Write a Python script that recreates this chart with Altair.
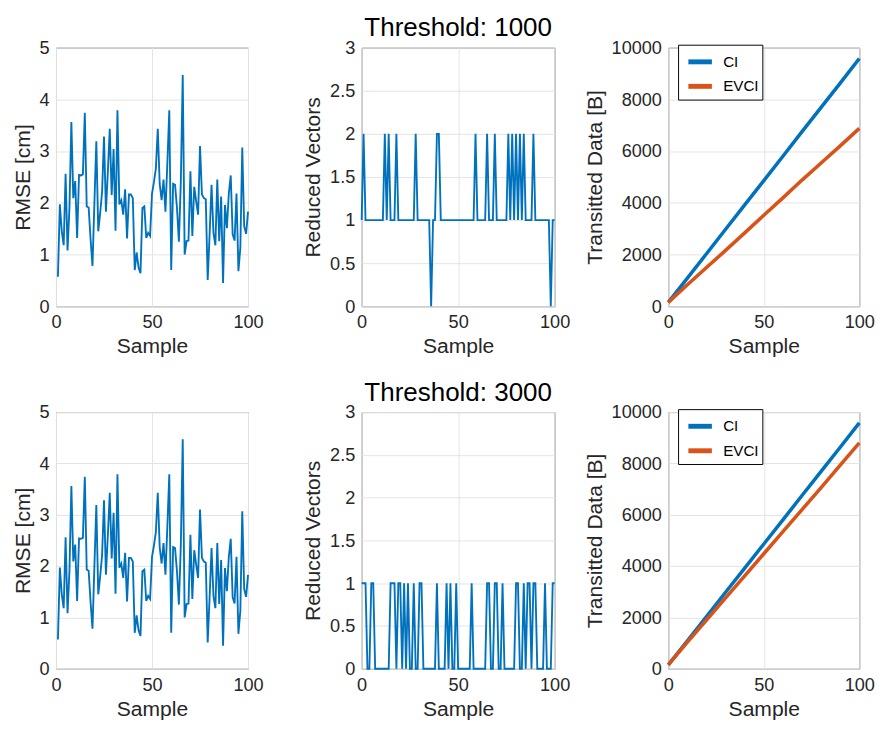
import altair as alt
import pandas as pd

FONT = "Liberation Sans"
BLUE = "#0072BD"
ORANGE = "#D95319"

# ---------------- data ----------------
rmse_samples = list(range(1, 101))
rmse_values = [
    0.57, 1.97, 1.45, 1.18, 2.56, 1.08, 1.90, 3.56, 2.09, 2.42,
    1.32, 2.54, 2.53, 2.55, 3.74, 1.93, 1.91, 1.30, 0.78, 2.00,
    3.19, 1.45, 1.80, 2.21, 3.28, 1.83, 2.60, 3.43, 2.15, 3.04,
    1.46, 3.79, 1.97, 2.05, 1.77, 2.26, 1.31, 2.16, 2.16, 2.09,
    0.70, 1.04, 0.75, 0.64, 1.90, 1.93, 1.32, 1.42, 1.36, 2.18,
    2.40, 2.66, 3.43, 2.37, 2.05, 2.45, 1.83, 2.78, 3.79, 0.70,
    2.37, 2.35, 1.90, 1.25, 2.40, 4.47, 1.00, 1.26, 1.27, 2.61,
    1.36, 2.31, 2.03, 1.77, 3.10, 2.16, 2.09, 2.07, 0.51, 1.39,
    2.35, 1.42, 1.18, 2.45, 1.26, 2.12, 0.45, 1.96, 1.51, 2.18,
    2.53, 1.39, 1.27, 2.18, 0.68, 1.13, 3.07, 1.55, 1.40, 1.83,
]

rv_samples = list(range(0, 101))
rv_1000 = [
    1, 2, 1, 1, 1, 1, 1, 1, 1, 1,
    1, 1, 2, 1, 2, 1, 1, 1, 2, 1,
    1, 1, 1, 1, 1, 1, 1, 1, 2, 1,
    1, 1, 1, 1, 1, 1, 0, 1, 1, 2,
    2, 1, 1, 1, 1, 1, 1, 1, 1, 1,
    1, 1, 1, 1, 1, 1, 1, 1, 1, 2,
    1, 1, 1, 1, 1, 2, 1, 1, 1, 2,
    1, 1, 1, 1, 1, 1, 2, 1, 2, 1,
    2, 1, 2, 1, 2, 1, 1, 1, 1, 2,
    1, 1, 1, 1, 1, 1, 1, 1, 0, 1,
    1,
]
rv_3000 = [
    1, 1, 1, 0, 0, 1, 1, 0, 0, 0,
    0, 0, 0, 0, 0, 1, 1, 1, 0, 1,
    1, 0, 1, 0, 1, 0, 0, 1, 0, 0,
    1, 1, 0, 0, 0, 0, 0, 0, 0, 1,
    0, 0, 0, 0, 1, 0, 1, 0, 0, 1,
    0, 0, 0, 0, 0, 0, 0, 1, 0, 0,
    0, 0, 0, 0, 0, 1, 1, 0, 0, 1,
    1, 0, 0, 1, 0, 0, 0, 0, 0, 0,
    1, 1, 0, 0, 1, 0, 1, 1, 0, 1,
    1, 0, 0, 0, 0, 1, 0, 0, 0, 1,
    1,
]

cum_samples = [0, 10, 20, 30, 40, 50, 60, 70, 80, 90, 100]
ci_bytes = [150, 1090, 2030, 2980, 3920, 4860, 5800, 6750, 7690, 8630, 9580]
evci_1000 = [150, 830, 1500, 2160, 2840, 3520, 4190, 4880, 5540, 6200, 6880]
evci_3000 = [150, 1040, 1900, 2760, 3620, 4480, 5340, 6200, 7060, 7930, 8800]

series_names = ["CI", "EVCI"]
thresholds = ["Threshold: 1000", "Threshold: 3000"]

# ---------------- panels ----------------
W1, W2, W3 = 196, 197, 195
HEIGHTS = [264, 262]

x_enc = alt.X(
    "sample:Q",
    scale=alt.Scale(domain=[0, 100], nice=False),
    axis=alt.Axis(values=[0, 50, 100], title="Sample", labelFlush=False),
)


def rmse_panel(h):
    df = pd.DataFrame({"sample": rmse_samples, "rmse": rmse_values})
    return alt.Chart(df).mark_line(color=BLUE, strokeWidth=1.9).encode(
        x=x_enc,
        y=alt.Y(
            "rmse:Q",
            scale=alt.Scale(domain=[0, 5], nice=False),
            axis=alt.Axis(values=[0, 1, 2, 3, 4, 5], title="RMSE [cm]"),
        ),
    ).properties(width=W1, height=h)


def rv_panel(vals, title, h):
    df = pd.DataFrame({"sample": rv_samples, "rv": vals})
    return alt.Chart(df).mark_line(color=BLUE, strokeWidth=1.9).encode(
        x=x_enc,
        y=alt.Y(
            "rv:Q",
            scale=alt.Scale(domain=[0, 3], nice=False),
            axis=alt.Axis(values=[0, 0.5, 1, 1.5, 2, 2.5, 3], format="~g",
                          title="Reduced Vectors"),
        ),
    ).properties(
        width=W2, height=h,
        title=alt.TitleParams(title, fontSize=26.5, fontWeight="normal", font=FONT,
                              color="#000000", offset=-3, anchor="middle"),
    )


def data_panel(evci, h):
    df = pd.DataFrame({
        "sample": cum_samples * 2,
        "bytes": ci_bytes + evci,
        "series": [series_names[0]] * len(cum_samples) + [series_names[1]] * len(cum_samples),
    })
    return alt.Chart(df).mark_line(strokeWidth=3.6).encode(
        x=x_enc,
        y=alt.Y(
            "bytes:Q",
            scale=alt.Scale(domain=[0, 10000], nice=False),
            axis=alt.Axis(values=[0, 2000, 4000, 6000, 8000, 10000], format="d",
                          title="Transitted Data [B]"),
        ),
        color=alt.Color(
            "series:N",
            scale=alt.Scale(domain=series_names, range=[BLUE, ORANGE]),
            legend=alt.Legend(
                title=None, orient="none", legendX=10, legendY=-3,
                strokeColor="#000000", fillColor="#ffffff", padding=3,
                symbolType="stroke", symbolSize=576, symbolStrokeWidth=5,
                symbolOffset=5,
                labelFontSize=15.5, labelFont=FONT, labelColor="#000000",
                rowPadding=-3, labelOffset=9,
            ),
        ),
    ).properties(width=W3, height=h)


panels = [
    rmse_panel(HEIGHTS[0]), rv_panel(rv_1000, thresholds[0], HEIGHTS[0]), data_panel(evci_1000, HEIGHTS[0]),
    rmse_panel(HEIGHTS[1]), rv_panel(rv_3000, thresholds[1], HEIGHTS[1]), data_panel(evci_3000, HEIGHTS[1]),
]

chart = alt.concat(
    *panels, columns=3, bounds="flush",
    spacing=alt.RowColnumber(row=108, column=116),
).resolve_scale(
    color="independent", x="independent", y="independent"
).resolve_legend(
    color="independent"
).configure(
    background="#ffffff", padding={"left": 4, "top": 0, "right": 0, "bottom": 0}
).configure_view(
    stroke="#6a6a6a", strokeWidth=1
).configure_axis(
    labelFont=FONT, titleFont=FONT, labelFontSize=18.5, titleFontSize=21.5,
    titleFontWeight="normal", labelColor="#262626", titleColor="#262626",
    gridColor="#e3e3e3", gridWidth=1, domain=False, ticks=False,
    labelPadding=7, titlePadding=5,
)

chart.save("out.html", embed_options={"renderer": "svg", "actions": False})
